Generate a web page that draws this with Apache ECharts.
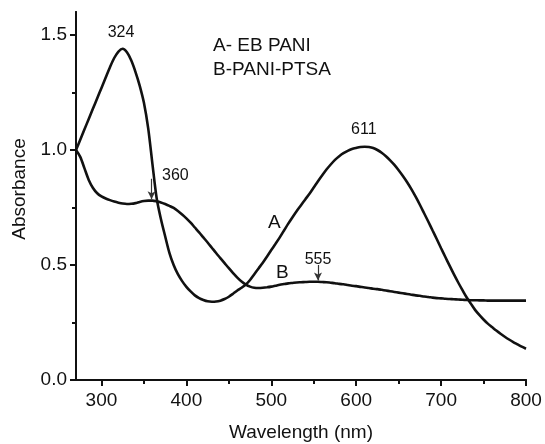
<!DOCTYPE html>
<html>
<head>
<meta charset="utf-8">
<script src="https://cdn.jsdelivr.net/npm/echarts@6/dist/echarts.min.js"></script>
<style>
  html, body { margin: 0; padding: 0; background: #fff; }
  #chart { width: 545px; height: 444px; }
</style>
</head>
<body>
<div id="chart"></div>
<script>
// UV-Vis absorption spectra of emeraldine base PANI (A) and PTSA-doped PANI (B)
const wavelength = [
  270, 275, 280, 285, 290, 295, 300, 305, 310, 315, 320, 325, 330, 335, 340, 345, 350, 355,
  360, 365, 370, 375, 380, 385, 390, 395, 400, 405, 410, 415, 420, 425, 430, 435, 440, 445,
  450, 455, 460, 465, 470, 475, 480, 485, 490, 495, 500, 505, 510, 515, 520, 525, 530, 535,
  540, 545, 550, 555, 560, 565, 570, 575, 580, 585, 590, 595, 600, 605, 610, 615, 620, 625,
  630, 635, 640, 645, 650, 655, 660, 665, 670, 675, 680, 685, 690, 695, 700, 705, 710, 715,
  720, 725, 730, 735, 740, 745, 750, 755, 760, 765, 770, 775, 780, 785, 790, 795, 800
];
const absorbanceA = [
  1.000, 1.045, 1.090, 1.135, 1.180, 1.225, 1.270, 1.315, 1.360, 1.400, 1.428, 1.440, 1.425, 1.390, 1.340, 1.280, 1.205, 1.095,
  0.940, 0.790, 0.700, 0.625, 0.553, 0.500, 0.460, 0.430, 0.405, 0.385, 0.368, 0.356, 0.348, 0.342, 0.340, 0.341, 0.345, 0.352,
  0.362, 0.375, 0.389, 0.401, 0.415, 0.435, 0.460, 0.485, 0.510, 0.537, 0.565, 0.592, 0.620, 0.650, 0.680, 0.708, 0.735, 0.760,
  0.785, 0.810, 0.837, 0.864, 0.890, 0.915, 0.937, 0.957, 0.973, 0.986, 0.996, 1.004, 1.009, 1.013, 1.014, 1.013, 1.009, 1.000,
  0.988, 0.973, 0.955, 0.935, 0.912, 0.887, 0.860, 0.830, 0.797, 0.762, 0.725, 0.688, 0.650, 0.612, 0.573, 0.535, 0.497, 0.460,
  0.425, 0.392, 0.360, 0.332, 0.305, 0.283, 0.263, 0.245, 0.230, 0.215, 0.201, 0.188, 0.176, 0.165, 0.155, 0.145, 0.136
];
const absorbanceB = [
  1.000, 0.970, 0.920, 0.870, 0.835, 0.812, 0.798, 0.789, 0.782, 0.776, 0.771, 0.767, 0.765, 0.766, 0.769, 0.774, 0.778, 0.780,
  0.780, 0.777, 0.772, 0.765, 0.757, 0.748, 0.735, 0.720, 0.703, 0.684, 0.663, 0.642, 0.620, 0.598, 0.575, 0.552, 0.530, 0.508,
  0.486, 0.465, 0.445, 0.428, 0.415, 0.406, 0.401, 0.400, 0.401, 0.403, 0.406, 0.410, 0.414, 0.417, 0.420, 0.422, 0.424, 0.425,
  0.426, 0.427, 0.427, 0.427, 0.426, 0.425, 0.423, 0.421, 0.418, 0.416, 0.413, 0.410, 0.408, 0.405, 0.402, 0.400, 0.397, 0.395,
  0.392, 0.389, 0.386, 0.383, 0.380, 0.377, 0.374, 0.371, 0.368, 0.366, 0.363, 0.361, 0.358, 0.356, 0.355, 0.353, 0.352, 0.351,
  0.350, 0.349, 0.348, 0.347, 0.347, 0.346, 0.346, 0.345, 0.345, 0.345, 0.345, 0.345, 0.345, 0.345, 0.345, 0.345, 0.345
];

// axis ticks
const xMajorTicks = [300, 400, 500, 600, 700, 800];
const xMinorTicks = [350, 450, 550, 650, 750];
const yMajorTicks = [0, 0.5, 1.0, 1.5];
const yMinorTicks = [0.25, 0.75, 1.25];

// peak annotations: [wavelength, absorbance, text]
const peakLabels = [
  [323, 1.51, '324'],
  [387, 0.887, '360'],
  [609, 1.088, '611'],
  [555, 0.522, '555']
];
const curveLabels = [
  [503.5, 0.683, 'A'],
  [513, 0.467, 'B']
];
// arrows pointing at band positions: [wavelength, from, to]
const arrows = [
  [359, 0.875, 0.786],
  [555, 0.50, 0.433]
];
const legendLines = ['A- EB PANI', 'B-PANI-PTSA'];

const FONT = 'Liberation Sans, Arial, sans-serif';
const INK = '#111';

const pairs = (xs, ys) => xs.map((x, i) => [x, ys[i]]);

function xAxisDef(ticks, len, showLabel, extra) {
  return Object.assign({
    type: 'value', min: 270, max: 800, gridIndex: 0,
    axisLine: { show: true, onZero: false, lineStyle: { color: INK, width: 2 } },
    axisTick: { show: true, length: len, customValues: ticks, lineStyle: { color: INK, width: 2 } },
    axisLabel: { show: showLabel, customValues: ticks, margin: 11, color: INK, fontSize: 19, fontFamily: FONT },
    splitLine: { show: false }
  }, extra || {});
}
function yAxisDef(ticks, len, showLabel, extra) {
  return Object.assign({
    type: 'value', min: 0, max: 1.6, gridIndex: 0,
    axisLine: { show: true, onZero: false, lineStyle: { color: INK, width: 2 } },
    axisTick: { show: true, length: len, customValues: ticks, lineStyle: { color: INK, width: 2 } },
    axisLabel: { show: showLabel, customValues: ticks, margin: 9, color: INK, fontSize: 19, fontFamily: FONT,
      formatter: v => Number(v).toFixed(1) },
    splitLine: { show: false }
  }, extra || {});
}

const chart = echarts.init(document.getElementById('chart'), null, { renderer: 'canvas' });

chart.setOption({
  animation: false,
  backgroundColor: '#fff',
  title: {
    text: legendLines.join('\n'),
    left: 213, top: 34, padding: 0,
    textStyle: { fontSize: 19, fontWeight: 'normal', color: INK, fontFamily: FONT, lineHeight: 24 }
  },
  grid: { left: 76, right: 19, top: 12, bottom: 64, containLabel: false, outerBoundsMode: 'none' },
  xAxis: [
    xAxisDef(xMajorTicks, 6, true, {
      name: 'Wavelength (nm)', nameLocation: 'middle', nameGap: 43,
      nameTextStyle: { fontSize: 19, color: INK, fontFamily: FONT }
    }),
    xAxisDef(xMinorTicks, 4, false, { position: 'bottom' })
  ],
  yAxis: [
    yAxisDef(yMajorTicks, 6, true, {
      name: 'Absorbance', nameLocation: 'middle', nameGap: 46,
      nameTextStyle: { fontSize: 19, color: INK, fontFamily: FONT, padding: [0, 0, 0, 14] }
    }),
    yAxisDef(yMinorTicks, 4, false, { position: 'left' })
  ],
  series: [
    {
      name: 'A', type: 'line', smooth: 0.3, showSymbol: false,
      data: pairs(wavelength, absorbanceA),
      lineStyle: { color: '#111', width: 2.6 }
    },
    {
      name: 'B', type: 'line', smooth: 0.3, showSymbol: false,
      data: pairs(wavelength, absorbanceB),
      lineStyle: { color: '#111', width: 2.6 },
      markLine: {
        silent: true, symbol: ['none', 'arrow'], symbolSize: [6, 8],
        label: { show: false },
        lineStyle: { color: '#333', width: 1.2, type: 'solid' },
        data: arrows.map(a => [{ coord: [a[0], a[1]] }, { coord: [a[0], a[2]] }])
      }
    },
    {
      type: 'scatter', symbolSize: 0, silent: true,
      itemStyle: { opacity: 1 },
      data: peakLabels,
      label: { show: true, position: 'inside', formatter: p => p.data[2],
        color: INK, fontSize: 16, fontFamily: FONT }
    },
    {
      type: 'scatter', symbolSize: 0, silent: true,
      itemStyle: { opacity: 1 },
      data: curveLabels,
      label: { show: true, position: 'inside', formatter: p => p.data[2],
        color: INK, fontSize: 19, fontFamily: FONT }
    }
  ]
});
</script>
</body>
</html>
